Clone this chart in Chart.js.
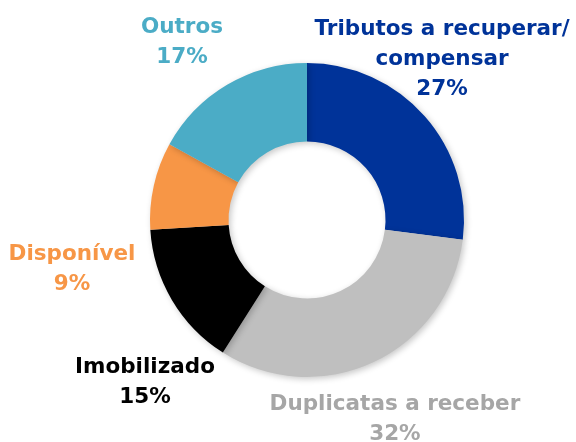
<!DOCTYPE html>
<html>
<head>
<meta charset="utf-8">
<script src="https://cdn.jsdelivr.net/npm/chart.js@4.4.1/dist/chart.umd.min.js"></script>
<style>
  html, body { margin: 0; padding: 0; background: #ffffff; }
  #wrap { width: 576px; height: 442px; position: relative; }
</style>
</head>
<body>
<div id="wrap"><canvas id="c" width="576" height="442"></canvas></div>
<script>
// Data
const categories = ["Tributos a recuperar/\ncompensar", "Duplicatas a receber", "Imobilizado", "Disponível", "Outros"];
const shares = [27, 32, 15, 9, 17];
const pctLabels = ["27%", "32%", "15%", "9%", "17%"];

// Styles
const sliceColors = ["#003399", "#BFBFBF", "#000000", "#F79646", "#4BACC6"];
const labelColors = ["#003399", "#A6A6A6", "#000000", "#F79646", "#4BACC6"];
// label anchor relative to doughnut centre, in units of outer radius (x centre, first baseline)
const labelAnchor = [[0.86, -1.178], [0.56, 1.21], [-1.032, 0.975], [-1.497, 0.255], [-0.796, -1.191]];
const FONT = "bold 21.5px 'DejaVu Sans', sans-serif";
const LINE_H = 30;

const shadowPlugin = {
  id: 'shadow',
  beforeDatasetDraw(chart) {
    const ctx = chart.ctx;
    ctx.save();
    ctx.shadowColor = 'rgba(0,0,0,0.22)';
    ctx.shadowBlur = 6;
    ctx.shadowOffsetX = 2;
    ctx.shadowOffsetY = 2;
  },
  afterDatasetDraw(chart) {
    chart.ctx.restore();
  }
};

const labelPlugin = {
  id: 'outerLabels',
  afterDraw(chart) {
    const ctx = chart.ctx;
    const meta = chart.getDatasetMeta(0);
    ctx.save();
    ctx.font = FONT;
    ctx.textAlign = 'center';
    ctx.textBaseline = 'alphabetic';
    meta.data.forEach((arc, i) => {
      const p = arc.getProps(['x', 'y', 'outerRadius'], true);
      const ax = p.x + labelAnchor[i][0] * p.outerRadius;
      const ay = p.y + labelAnchor[i][1] * p.outerRadius;
      const lines = chart.data.labels[i].split('\n').concat([pctLabels[i]]);
      ctx.fillStyle = labelColors[i];
      lines.forEach((t, k) => ctx.fillText(t, ax, ay + k * LINE_H));
    });
    ctx.restore();
  }
};

new Chart(document.getElementById('c'), {
  type: 'doughnut',
  data: {
    labels: categories,
    datasets: [{
      data: shares,
      backgroundColor: sliceColors,
      borderWidth: 0,
      hoverOffset: 0
    }]
  },
  options: {
    responsive: false,
    animation: false,
    cutout: '50%',
    rotation: 0,
    layout: { padding: { left: 150, right: 112, top: 63, bottom: 65 } },
    plugins: {
      legend: { display: false },
      tooltip: { enabled: false }
    }
  },
  plugins: [shadowPlugin, labelPlugin]
});
</script>
</body>
</html>
